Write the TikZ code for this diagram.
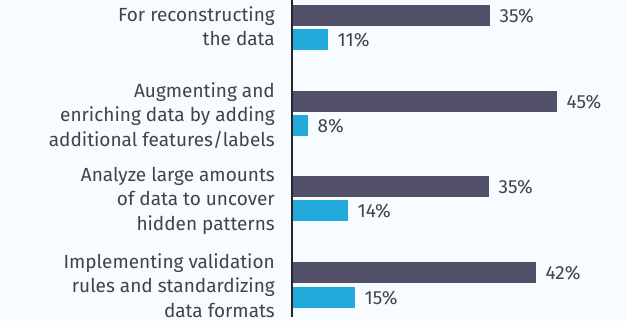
\documentclass[tikz,border=0pt]{standalone}
\usepackage{fontspec}
\setmainfont{Fira Sans}
\definecolor{bg}{HTML}{F6FCFF}
\definecolor{darkbar}{HTML}{53516A}
\definecolor{bluebar}{HTML}{22AADD}
\definecolor{txt}{HTML}{444444}
\begin{document}
\begin{tikzpicture}[x=1pt,y=-1pt,
  bar/.style={rectangle, inner sep=0pt, minimum height=21pt, anchor=west},
  dbar/.style={bar, fill=darkbar},
  bbar/.style={bar, fill=bluebar},
  val/.style={inner sep=0pt, anchor=base west, text=txt, font=\fontsize{19}{24.5}\selectfont},
  cat/.style={inner sep=0pt, anchor=base east, align=right, text=txt, font=\fontsize{19}{24.5}\selectfont}]
\fill[bg] (0,0) rectangle (626,321);
\useasboundingbox (0,0) rectangle (626,321);
% bars
\node[dbar, minimum width=197pt] (d1) at (293,15.5) {};
\node[bbar, minimum width=35pt]  (b1) at (293,39.5) {};
\node[dbar, minimum width=264pt] (d2) at (293,101.5) {};
\node[bbar, minimum width=15pt]  (b2) at (293,125.5) {};
\node[dbar, minimum width=196pt] (d3) at (293,186.5) {};
\node[bbar, minimum width=55pt]  (b3) at (293,210.5) {};
\node[dbar, minimum width=243pt] (d4) at (293,272.5) {};
\node[bbar, minimum width=62pt]  (b4) at (293,297.5) {};
% axis
\coordinate (atop) at (292,0);
\coordinate (abot) at (292,317);
\draw[line width=1.8pt, draw=black!85] (atop) -- (abot);
% values
\node[val] (v1) at ([xshift=9pt,yshift=-7pt]d1.east) {35\%};
\node[val] (w1) at ([xshift=9pt,yshift=-7pt]b1.east) {11\%};
\node[val] (v2) at ([xshift=9pt,yshift=-7pt]d2.east) {45\%};
\node[val] (w2) at ([xshift=9pt,yshift=-7pt]b2.east) {8\%};
\node[val] (v3) at ([xshift=9pt,yshift=-7pt]d3.east) {35\%};
\node[val] (w3) at ([xshift=9pt,yshift=-7pt]b3.east) {14\%};
\node[val] (v4) at ([xshift=9pt,yshift=-7pt]d4.east) {42\%};
\node[val] (w4) at ([xshift=9pt,yshift=-7pt]b4.east) {15\%};
% categories (anchored at the baseline of their last line)
\node[cat] (c1) at (275,45.5) {For reconstructing\\the data};
\node[cat] (c2) at (275,146) {Augmenting and\\enriching data by adding\\additional features/labels};
\node[cat] (c3) at (275,230) {Analyze large amounts\\of data to uncover\\hidden patterns};
\node[cat] (c4) at (275,317) {Implementing validation\\rules and standardizing\\data formats};
\end{tikzpicture}
\end{document}
